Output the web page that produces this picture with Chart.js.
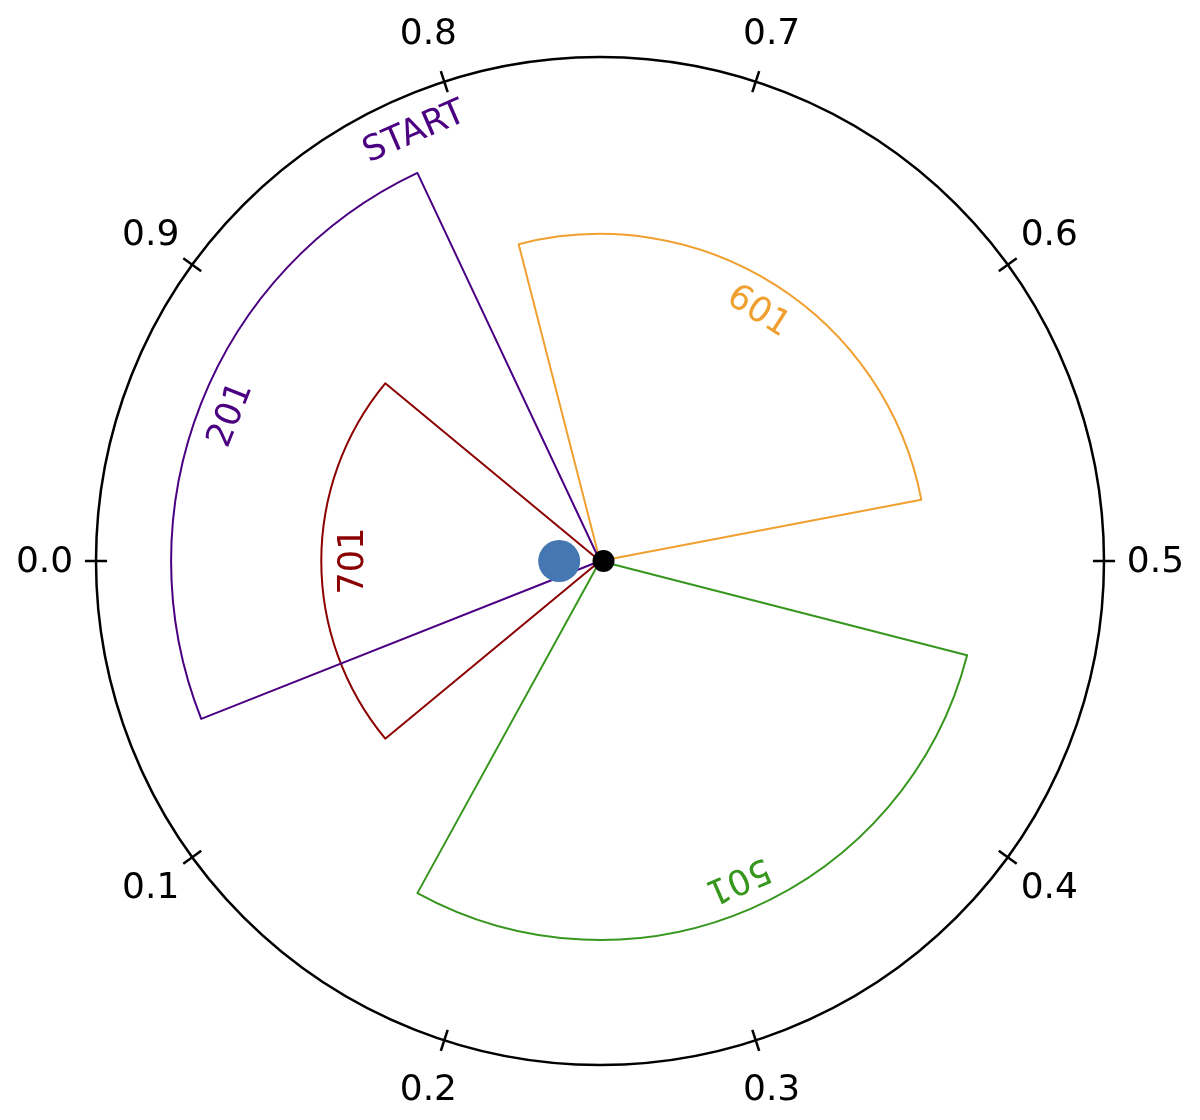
<!DOCTYPE html>
<html>
<head>
<meta charset="utf-8">
<script src="https://cdn.jsdelivr.net/npm/chart.js@4/dist/chart.umd.min.js"></script>
<style>
html,body{margin:0;padding:0;background:#ffffff;}
#wrap{width:1200px;height:1120px;position:relative;}
</style>
</head>
<body>
<div id="wrap"><canvas id="c"></canvas></div>
<script>
// ---------------- data ----------------
const wedgeLabels = ['201', '701', '601', '501'];
const wedgeStart  = [0.82, 0.89, 0.53, 0.17];   // phase where each wedge begins (counter-clockwise)
const wedgeEnd    = [1.06, 1.11, 0.79, 0.46];   // phase where each wedge ends
const wedgeRadius = [0.851, 0.553, 0.649, 0.752];

const tickPhases = [0.0, 0.1, 0.2, 0.3, 0.4, 0.5, 0.6, 0.7, 0.8, 0.9];
const tickLabels = ['0.0', '0.1', '0.2', '0.3', '0.4', '0.5', '0.6', '0.7', '0.8', '0.9'];

const dotPhase  = [0.0, 0.5];
const dotRadius = [0.081, 0.007];

const startText  = 'START';
const startPhase = 0.815;
const startR     = 0.933;

// ---------------- styles ----------------
const wedgeColors = ['#4b0082', '#8b0000', '#f0a030', '#36961d'];
const dotColors   = ['#4577b2', '#000000'];
const dotSizes    = [21, 11];
const FONT = '"DejaVu Sans", "Liberation Sans", sans-serif';

// ---------------- build datasets ----------------
const wedgeDatasets = wedgeLabels.map((lab, i) => {
  const endWrapped = ((wedgeEnd[i] % 1) + 1) % 1;
  let gap = ((1 - endWrapped) % 1) * 360;
  if (gap === 0) gap = 0.0001;
  const span = (wedgeEnd[i] - wedgeStart[i]) * 360;
  return {
    type: 'polarArea',
    label: lab,
    data: [0, wedgeRadius[i]],
    angle: [gap, span],
    backgroundColor: ['rgba(0,0,0,0)', 'rgba(0,0,0,0)'],
    borderColor: ['rgba(0,0,0,0)', wedgeColors[i]],
    borderWidth: [0, 2],
    borderJoinStyle: 'round',
    borderAlign: 'center',
    order: 1
  };
});

const dotData = dotPhase.map((p, i) => {
  const th = Math.PI + 2 * Math.PI * p;
  return { x: dotRadius[i] * Math.cos(th), y: dotRadius[i] * Math.sin(th) };
});

const dotDataset = {
  type: 'scatter',
  label: 'dots',
  indexAxis: 'x',
  xAxisID: 'x',
  yAxisID: 'y',
  data: dotData,
  pointRadius: dotSizes,
  pointBackgroundColor: dotColors,
  pointBorderColor: dotColors,
  pointBorderWidth: 0,
  pointHoverRadius: dotSizes,
  showLine: false,
  clip: false,
  order: -1
};

// ---------------- overlay plugin: ticks & text ----------------
const overlayPlugin = {
  id: 'overlay',
  afterDatasetsDraw(chart, args, opts) {
    const s = chart.scales.r;
    const ctx = chart.ctx;
    const base = s.options.startAngle * Math.PI / 180 - Math.PI / 2;
    const angleOf = p => base - 2 * Math.PI * p;
    const pos = (p, v) => {
      const a = angleOf(p);
      const d = s.getDistanceFromCenterForValue(v);
      return { x: s.xCenter + d * Math.cos(a), y: s.yCenter + d * Math.sin(a), a };
    };
    ctx.save();
    // tick marks
    ctx.strokeStyle = '#000';
    ctx.lineWidth = opts.tickWidth;
    ctx.lineCap = 'butt';
    tickPhases.forEach(p => {
      const p1 = pos(p, 1 - opts.tickLen), p2 = pos(p, 1 + opts.tickLen);
      ctx.beginPath(); ctx.moveTo(p1.x, p1.y); ctx.lineTo(p2.x, p2.y); ctx.stroke();
    });
    // tick labels
    ctx.fillStyle = '#000';
    ctx.font = opts.tickFont + 'px ' + FONT;
    ctx.textAlign = 'center';
    ctx.textBaseline = 'alphabetic';
    tickPhases.forEach((p, i) => {
      const t = pos(p, opts.tickLabelR);
      ctx.fillText(tickLabels[i], t.x, t.y + opts.tickFont * 0.30);
    });
    // rotated text
    const rotText = (text, p, v, color) => {
      const t = pos(p, v);
      ctx.save();
      ctx.translate(t.x, t.y);
      ctx.rotate(t.a + Math.PI / 2);
      ctx.fillStyle = color;
      ctx.font = opts.labelFont + 'px ' + FONT;
      ctx.textAlign = 'center';
      ctx.textBaseline = 'alphabetic';
      ctx.fillText(text, 0, opts.labelFont * 0.3645);
      ctx.restore();
    };
    wedgeLabels.forEach((lab, i) => {
      const mid = (wedgeStart[i] + wedgeEnd[i]) / 2;
      rotText(lab, mid, wedgeRadius[i] - opts.labelInset, wedgeColors[i]);
    });
    rotText(startText, startPhase, startR, wedgeColors[0]);
    ctx.restore();
  }
};

new Chart(document.getElementById('c'), {
  type: 'polarArea',
  data: {
    labels: ['', ''],
    datasets: [dotDataset, ...wedgeDatasets]
  },
  options: {
    responsive: true,
    maintainAspectRatio: false,
    animation: false,
    events: [],
    layout: { padding: { left: 96, right: 96, top: 57, bottom: 55 } },
    scales: {
      r: {
        type: 'radialLinear',
        min: 0,
        max: 1,
        startAngle: 270,
        ticks: { display: false, stepSize: 1 },
        grid: { circular: true, color: '#000000', lineWidth: 2.5 },
        angleLines: { display: false },
        pointLabels: { display: false }
      },
      x: { type: 'linear', axis: 'x', position: 'bottom', display: false, min: -1, max: 1 },
      y: { type: 'linear', axis: 'y', position: 'left', display: false, min: -1, max: 1 }
    },
    plugins: {
      legend: { display: false },
      tooltip: { enabled: false },
      overlay: { tickWidth: 2.5, tickLen: 0.022, tickLabelR: 1.102, tickFont: 36, labelFont: 35, labelInset: 0.0565 }
    }
  },
  plugins: [overlayPlugin]
});
</script>
</body>
</html>
